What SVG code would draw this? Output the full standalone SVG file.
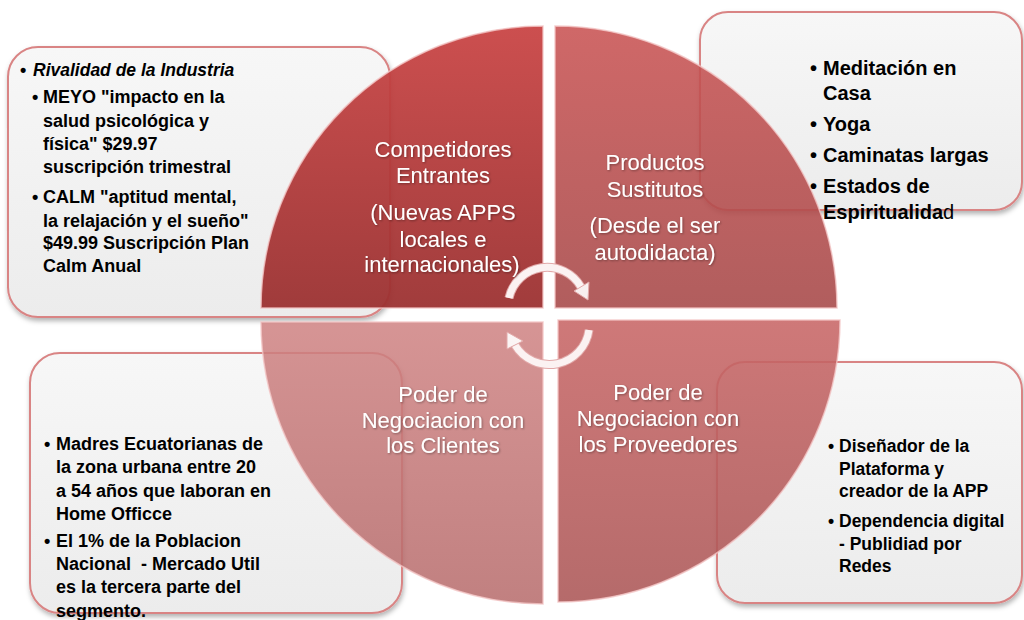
<svg xmlns="http://www.w3.org/2000/svg" width="1024" height="620" viewBox="0 0 1024 620">
<defs>
<linearGradient id="boxg" x1="0" y1="0" x2="0" y2="1"><stop offset="0" stop-color="#f7f7f7"/><stop offset="1" stop-color="#ececec"/></linearGradient>
<linearGradient id="gTL" x1="0" y1="0" x2="0" y2="1"><stop offset="0" stop-color="#c94444"/><stop offset="1" stop-color="#9b3030"/></linearGradient>
<linearGradient id="gTR" x1="0" y1="0" x2="0" y2="1"><stop offset="0" stop-color="#c95353"/><stop offset="1" stop-color="#a64747"/></linearGradient>
<linearGradient id="gBL" x1="0" y1="0" x2="0" y2="1"><stop offset="0" stop-color="#cf8282"/><stop offset="1" stop-color="#b66a6a"/></linearGradient>
<linearGradient id="gBR" x1="0" y1="0" x2="0" y2="1"><stop offset="0" stop-color="#c86666"/><stop offset="1" stop-color="#ab5656"/></linearGradient>
<filter id="sh" x="-10%" y="-10%" width="120%" height="125%"><feDropShadow dx="1" dy="3" stdDeviation="2.5" flood-color="#000" flood-opacity="0.3"/></filter>
<filter id="ts" x="-10%" y="-20%" width="120%" height="140%"><feDropShadow dx="1" dy="1" stdDeviation="1" flood-color="#000" flood-opacity="0.35"/></filter>
<style>
.box{fill:url(#boxg);stroke:#d98484;stroke-width:2;filter:url(#sh)}
.q{stroke:#f2c4c4;stroke-width:1.5;stroke-opacity:.8}
.bt{font-family:"Liberation Sans",Arial,sans-serif;font-weight:bold;fill:#000}
.qt{font-family:"Liberation Sans",Arial,sans-serif;font-size:22px;fill:#fff;text-anchor:middle;filter:url(#ts)}
.arc{fill:none;stroke:#ffffff;stroke-opacity:.85;stroke-width:7}
.arcb{fill:none;stroke:#e2a9a9;stroke-width:9}
.ah{fill:#ffffff;fill-opacity:.9;stroke:#e2a9a9;stroke-width:1}
</style>
</defs>

<g id="box-rivalidad"><rect class="box" x="8" y="47" width="382" height="270" rx="30"/></g>
<g id="box-sustitutos"><rect class="box" x="700" y="12" width="322" height="198" rx="28"/></g>
<g id="box-clientes"><rect class="box" x="30" y="353" width="372" height="260" rx="30"/></g>
<g id="box-proveedores"><rect class="box" x="717" y="362" width="305" height="241" rx="28"/></g>

<g id="q-competidores"><path class="q" d="M543,308 H261 A282,282 0 0 1 543,26 Z" fill="url(#gTL)" fill-opacity="0.94"/></g>
<g id="q-productos"><path class="q" d="M555,308 V26 A282,282 0 0 1 837,308 Z" fill="url(#gTR)" fill-opacity="0.88"/></g>
<g id="q-poder-clientes"><path class="q" d="M543,322 V604 A282,282 0 0 1 261,322 Z" fill="url(#gBL)" fill-opacity="0.85"/></g>
<g id="q-poder-proveedores"><path class="q" d="M558,320 H840 A282,282 0 0 1 558,602 Z" fill="url(#gBR)" fill-opacity="0.88"/></g>

<g id="connectors">
<path class="arcb" d="M509,298 A39,39 0 0 1 581,287"/>
<path class="arc" d="M509,298 A39,39 0 0 1 581,287"/>
<polygon class="ah" points="574,291 589,282 588,300"/>
<path class="arcb" d="M589,330 A40,40 0 0 1 515,345"/>
<path class="arc" d="M589,330 A40,40 0 0 1 515,345"/>
<polygon class="ah" points="507,349 523,341 507,332"/>
</g>

<g id="t-rivalidad" class="bt" font-size="18">
<text x="20" y="76">•</text><text x="33" y="76" font-style="italic" font-size="17.5">Rivalidad de la Industria</text>
<text x="32" y="103">•</text>
<text x="43" y="103">MEYO "impacto en la</text>
<text x="43" y="127">salud psicológica y</text>
<text x="43" y="150">física" $29.97</text>
<text x="43" y="173">suscripción trimestral</text>
<text x="32" y="203">•</text>
<text x="43" y="203">CALM "aptitud mental,</text>
<text x="43" y="227">la relajación y el sueño"</text>
<text x="43" y="249">$49.99 Suscripción Plan</text>
<text x="43" y="272">Calm Anual</text>
</g>

<g id="t-sustitutos" class="bt" font-size="20">
<text x="810" y="75">•</text><text x="823" y="75">Meditación en</text>
<text x="823" y="100">Casa</text>
<text x="810" y="131">•</text><text x="823" y="131">Yoga</text>
<text x="810" y="162">•</text><text x="823" y="162">Caminatas largas</text>
<text x="810" y="193">•</text><text x="823" y="193">Estados de</text>
<text x="823" y="219">Espiritualida<tspan font-weight="normal">d</tspan></text>
</g>

<g id="t-clientes" class="bt" font-size="18">
<text x="44" y="450">•</text>
<text x="56" y="450">Madres Ecuatorianas de</text>
<text x="56" y="473">la zona urbana entre 20</text>
<text x="56" y="497">a 54 años que laboran en</text>
<text x="56" y="520">Home Officce</text>
<text x="44" y="547">•</text>
<text x="56" y="547">El 1% de la Poblacion</text>
<text x="56" y="570">Nacional&#160; - Mercado Util</text>
<text x="56" y="593">es la tercera parte del</text>
<text x="56" y="617">segmento.</text>
</g>

<g id="t-proveedores" class="bt" font-size="17.5">
<text x="828" y="452">•</text>
<text x="839" y="452">Diseñador de la</text>
<text x="839" y="475">Plataforma y</text>
<text x="839" y="497">creador de la APP</text>
<text x="828" y="527">•</text>
<text x="839" y="527">Dependencia digital</text>
<text x="839" y="550">- Publidiad por</text>
<text x="839" y="572">Redes</text>
</g>

<g id="t-quadrants" class="qt">
<text x="443" y="157">Competidores</text>
<text x="443" y="183">Entrantes</text>
<text x="443" y="220">(Nuevas APPS</text>
<text x="443" y="247">locales e</text>
<text x="442" y="272">internacionales)</text>
<text x="655" y="170">Productos</text>
<text x="655" y="197">Sustitutos</text>
<text x="655" y="233">(Desde el ser</text>
<text x="655" y="260">autodidacta)</text>
<text x="443" y="402">Poder de</text>
<text x="443" y="428">Negociacion con</text>
<text x="443" y="453">los Clientes</text>
<text x="658" y="400">Poder de</text>
<text x="658" y="426">Negociacion con</text>
<text x="658" y="452">los Proveedores</text>
</g>
</svg>
